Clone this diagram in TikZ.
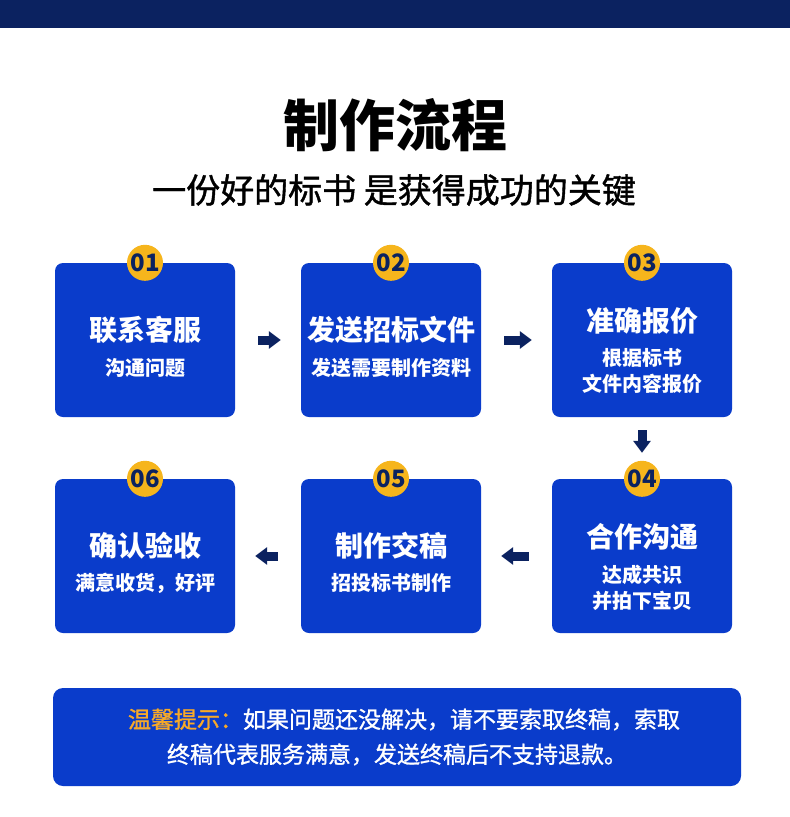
\documentclass[tikz,border=0pt]{standalone}
\usepackage{fontspec}
\setmainfont{Noto Sans CJK SC}
\newfontfamily\cjkmid[FakeBold=1.2]{Noto Sans CJK SC}
\usetikzlibrary{arrows.meta, positioning, calc}
\definecolor{cnavy}{HTML}{0B2260}
\definecolor{cblue}{HTML}{0A3CCB}
\definecolor{cgold}{HTML}{F6B51C}
\definecolor{corange}{HTML}{F7A928}
\tikzset{
  card/.style={fill=cblue, rounded corners=8pt, minimum width=180pt, minimum height=154pt, inner sep=0pt},
  badge/.style={circle, fill=cgold, minimum size=36pt, inner sep=0pt, text=cnavy, font=\fontsize{24}{24}\selectfont\bfseries},
  head/.style={text=white, font=\fontsize{28}{30}\selectfont\bfseries},
  sub/.style={text=white, align=center, font=\fontsize{20}{26}\selectfont\bfseries},
  blk/.style={-{Triangle[length=12pt, width=17pt]}, draw=cnavy, line width=9pt},
  notebox/.style={fill=cblue, rounded corners=10pt, minimum width=688pt, minimum height=98pt, align=center, text=white, font=\fontsize{23}{35}\selectfont\cjkmid},
}

\begin{document}
\begin{tikzpicture}[x=1pt, y=-1pt]
  \useasboundingbox (0,0) rectangle (790,817);
  \fill[white] (0,0) rectangle (790,817);
  \fill[cnavy] (0,0) rectangle (790,28);
  \node[font=\fontsize{56}{60}\selectfont\bfseries] (title) at (395,125) {制作流程};
  \node[font=\fontsize{34}{36}\selectfont\cjkmid] (subtitle) at (394,190) {一份好的标书 是获得成功的关键};
  % six step cards
  \foreach \i/\x/\y/\t/\s/\h/\u in {1/145/340/联系客服/沟通问题/-10/28,
      2/391/340/发送招标文件/发送需要制作资料/-10/28,
      3/642/340/准确报价/{根据标书\\文件内容报价}/-19/31,
      4/642/556/合作沟通/{达成共识\\并拍下宝贝}/-19/32,
      5/391/556/制作交稿/招投标书制作/-10/27,
      6/145/556/确认验收/{满意收货，好评}/-10/27} {
    \node[card] (b\i) at (\x,\y) {};
    \node[badge] (n\i) at (b\i.north) {0\i};
    \node[head] (h\i) at ($(b\i)+(0,\h)$) {\t};
    \node[sub] (s\i) at ($(b\i)+(0,\u)$) {\s};
  }
  \foreach \a/\b in {1/2, 2/3, 4/5, 5/6} \draw[blk, shorten <=23pt, shorten >=20pt] (b\a) -- (b\b);
  \draw[blk, shorten <=13pt, shorten >=26pt] (b3) -- (b4);
  % note
  \node[notebox] (note) at (397,737) {\hspace*{14pt}\textcolor{corange}{温馨提示：}如果问题还没解决，请不要索取终稿，索取\\终稿代表服务满意，发送终稿后不支持退款。};
\end{tikzpicture}
\end{document}
